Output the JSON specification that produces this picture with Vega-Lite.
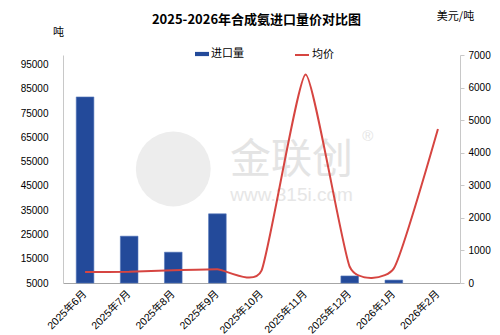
{
  "$schema": "https://vega.github.io/schema/vega-lite/v6.json",
  "width": 397,
  "height": 228,
  "autosize": {"type": "none"},
  "padding": {"left": 63, "top": 55, "right": 40, "bottom": 52},
  "background": "white",
  "config": {"view": {"stroke": null}, "font": "Liberation Sans, Noto Sans CJK SC"},
  "title": {
    "text": "2025-2026年合成氨进口量价对比图",
    "font": "Noto Sans CJK SC",
    "fontSize": 13,
    "fontWeight": "bold",
    "color": "#000000",
    "anchor": "middle",
    "frame": "group",
    "dx": -5,
    "offset": -30,
    "baseline": "bottom"
  },
  "data": {
    "values": [
      {"month": "2025年6月", "qty": 81700, "price": 336},
      {"month": "2025年7月", "qty": 24300, "price": 345},
      {"month": "2025年8月", "qty": 17700, "price": 390},
      {"month": "2025年9月", "qty": 33500, "price": 420},
      {"month": "2025年10月", "qty": null, "price": 380},
      {"month": "2025年11月", "qty": null, "price": 6400},
      {"month": "2025年12月", "qty": 7900, "price": 500},
      {"month": "2026年1月", "qty": 6200, "price": 450},
      {"month": "2026年2月", "qty": null, "price": 4730}
    ]
  },
  "encoding": {
    "x": {
      "field": "month",
      "type": "nominal",
      "sort": null,
      "scale": {
        "domain": ["2025年6月", "2025年7月", "2025年8月", "2025年9月", "2025年10月", "2025年11月", "2025年12月", "2026年1月", "2026年2月"],
        "paddingInner": 0.6,
        "paddingOuter": 0.3
      },
      "axis": {
        "title": null,
        "labelAngle": -45,
        "labelAlign": "right",
        "labelBaseline": "middle",
        "labelFontSize": 10.5,
        "labelColor": "#000000",
        "labelFont": "Liberation Sans, Noto Sans CJK SC",
        "labelOverlap": false,
        "ticks": false,
        "domainColor": "#a6a6a6",
        "labelPadding": 9
      }
    }
  },
  "layer": [
    {
      "layer": [
        {
          "data": {"values": [{"wm": "logo"}]},
          "mark": {"type": "point", "shape": "circle", "filled": true, "color": "#ededed", "size": 5600, "opacity": 1},
          "encoding": {
            "x": {"datum": "2025年8月"},
            "y": {"datum": 3500, "type": "quantitative", "scale": {"domain": [0, 7000], "nice": false}, "axis": null}
          }
        },
        {
          "data": {"values": [{"wm": "金联创"}]},
          "mark": {"type": "text", "fontSize": 41, "color": "#e4e4e4", "font": "Noto Sans CJK SC", "dx": -14},
          "encoding": {
            "x": {"datum": "2025年11月"},
            "y": {"datum": 3750, "type": "quantitative", "scale": {"domain": [0, 7000], "nice": false}, "axis": null},
            "text": {"field": "wm"}
          }
        },
        {
          "data": {"values": [{"wm": "www.315i.com"}]},
          "mark": {"type": "text", "fontSize": 19, "color": "#e6e6e6", "font": "Liberation Sans", "dx": -14},
          "encoding": {
            "x": {"datum": "2025年11月"},
            "y": {"datum": 2700, "type": "quantitative", "scale": {"domain": [0, 7000], "nice": false}, "axis": null},
            "text": {"field": "wm"}
          }
        },
        {
          "data": {"values": [{"wm": "®"}]},
          "mark": {"type": "text", "fontSize": 15, "color": "#e4e4e4", "font": "Liberation Sans", "dx": 18},
          "encoding": {
            "x": {"datum": "2025年12月"},
            "y": {"datum": 4500, "type": "quantitative", "scale": {"domain": [0, 7000], "nice": false}, "axis": null},
            "text": {"field": "wm"}
          }
        }
      ]
    },
    {
      "mark": {"type": "bar", "stroke": "#5577bb", "strokeWidth": 0.6},
      "encoding": {
        "y": {
          "field": "qty",
          "type": "quantitative",
          "scale": {"domain": [5000, 99000], "zero": false, "nice": false},
          "axis": {
            "orient": "left",
            "title": "吨",
            "titleAngle": 0,
            "titleX": -5,
            "titleY": -23,
            "titleAlign": "center",
            "titleBaseline": "middle",
            "titleFontSize": 11,
            "titleFontWeight": "normal",
            "titleFont": "Noto Sans CJK SC",
            "titleColor": "#000000",
            "values": [5000, 15000, 25000, 35000, 45000, 55000, 65000, 75000, 85000, 95000],
            "format": "d",
            "labelOverlap": false,
            "ticks": false,
            "labelPadding": 15,
            "labelFontSize": 10,
            "labelColor": "#000000",
            "domainColor": "#c8c8c8",
            "grid": false
          }
        },
        "y2": {"datum": 5000},
        "fill": {
          "datum": "进口量",
          "scale": {"range": ["#234a9a"]},
          "legend": {
            "orient": "none",
            "legendX": 132,
            "legendY": -8,
            "title": null,
            "symbolType": "M-1,-0.3H1V0.3H-1Z",
            "symbolSize": 196,
            "symbolStrokeWidth": 0,
            "labelFontSize": 11,
            "labelFont": "Noto Sans CJK SC",
            "labelColor": "#000000",
            "labelOffset": 2,
            "padding": 0
          }
        }
      }
    },
    {
      "mark": {"type": "line", "interpolate": "cardinal", "tension": 0.5, "strokeWidth": 2},
      "encoding": {
        "y": {
          "field": "price",
          "type": "quantitative",
          "scale": {"domain": [0, 7000], "nice": false},
          "axis": {
            "orient": "right",
            "title": "美元/吨",
            "titleAngle": 0,
            "titleX": -5,
            "titleY": -39,
            "titleAlign": "center",
            "titleBaseline": "middle",
            "titleFontSize": 11,
            "titleFontWeight": "normal",
            "titleFont": "Noto Sans CJK SC",
            "titleColor": "#000000",
            "values": [0, 1000, 2000, 3000, 4000, 5000, 6000, 7000],
            "format": "d",
            "labelOverlap": false,
            "tickSize": 4,
            "tickColor": "#c8c8c8",
            "labelPadding": 4,
            "labelFontSize": 10,
            "labelColor": "#000000",
            "domainColor": "#c8c8c8",
            "grid": false
          }
        },
        "stroke": {
          "datum": "均价",
          "scale": {"range": ["#d64541"]},
          "legend": {
            "orient": "none",
            "legendX": 231,
            "legendY": -8,
            "title": null,
            "symbolType": "stroke",
            "symbolSize": 196,
            "symbolStrokeWidth": 2,
            "labelFontSize": 11,
            "labelFont": "Noto Sans CJK SC",
            "labelColor": "#000000",
            "labelOffset": 2,
            "padding": 0
          }
        }
      }
    }
  ],
  "resolve": {"scale": {"y": "independent"}}
}
